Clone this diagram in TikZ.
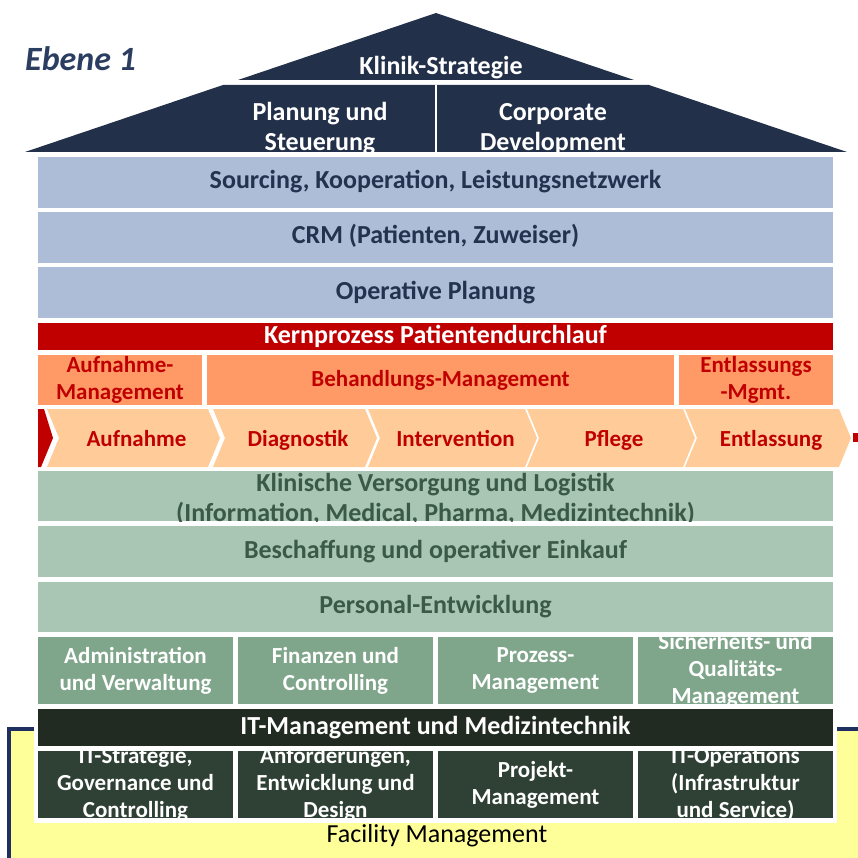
\documentclass[tikz,border=0pt]{standalone}
\usepackage{fontspec}
\setmainfont{Carlito}

\definecolor{roofnavy}{HTML}{223049}
\definecolor{ebeneblue}{HTML}{2B3E61}
\definecolor{layerblue}{HTML}{ADBCD7}
\definecolor{textblue}{HTML}{22324F}
\definecolor{kernred}{HTML}{C00000}
\definecolor{mgmtorange}{HTML}{FF9966}
\definecolor{chevpeach}{HTML}{FFCC99}
\definecolor{layergreen}{HTML}{A9C5B3}
\definecolor{textgreen}{HTML}{3A5A46}
\definecolor{orggreen}{HTML}{7FA68B}
\definecolor{itdark}{HTML}{222B21}
\definecolor{itgreen}{HTML}{2E4134}
\definecolor{facyellow}{HTML}{FFFF99}
\definecolor{facnavy}{HTML}{1F3060}

\begin{document}
\begin{tikzpicture}[x=1pt, y=-1pt,
		layer/.style={anchor=north west, inner sep=0pt, outer sep=0pt, minimum width=795pt},
		bigtext/.style={font=\bfseries\fontsize{26}{30}\selectfont, align=center, inner sep=0pt},
		smalltext/.style={font=\bfseries\fontsize{23}{27}\selectfont, align=center, inner sep=0pt},
		oneline/.style={text height=18pt, text depth=5pt},
		bluelayer/.style={layer, fill=layerblue, minimum height=51pt, bigtext, oneline, text=textblue},
		greenlayer/.style={layer, fill=layergreen, minimum height=50pt, bigtext, oneline, text=textgreen},
		mgmt/.style={layer, fill=mgmtorange, minimum height=50pt, smalltext, text=kernred}]
	\useasboundingbox (0,0) rectangle (858,858);
	\clip (0,0) rectangle (858,858);

	% Facility Management base
	\draw[facnavy, line width=4pt, fill=facyellow] (9,729) rectangle (900,900);
	\node[font=\fontsize{26}{30}\selectfont, inner sep=0pt] (facility) at (437,836) {Facility Management};
	\fill[white] (34,700) rectangle (837,823);

	% Roof
	\fill[roofnavy] (436,13) -- (634,80) -- (238,80) -- cycle;
	\fill[roofnavy] (223,85) -- (649,85) -- (847,152) -- (25,152) -- cycle;
	\draw[white, line width=2.5pt] (436,85) -- (436,152);
	\node[bigtext, oneline, white] (klinik) at (441,68) {Klinik-Strategie};
	\begin{scope}
		\clip (25,85) rectangle (847,152);
		\node[bigtext, white] (planung) at (320,129) {Planung und\\Steuerung};
		\node[bigtext, white] (corporate) at (553,129) {Corporate\\Development};
	\end{scope}
	\node[anchor=west, inner sep=0pt, text=ebeneblue, font=\bfseries\itshape\fontsize{34}{40}\selectfont] (ebene) at (25,59) {Ebene 1};

	% Blue layers
	\node[bluelayer] (sourcing) at (38,157) {Sourcing, Kooperation, Leistungsnetzwerk};
	\node[bluelayer] (crm) at (38,212) {CRM (Patienten, Zuweiser)};
	\node[bluelayer] (operativ) at (38,267) {Operative Planung};

	% Kernprozess
	\node[layer, fill=kernred, minimum height=27pt, bigtext, oneline, text=white] (kern) at (38,323) {Kernprozess Patientendurchlauf};
	\node[mgmt, minimum width=164pt] (aufnahmemgmt) at (38,355) {Aufnahme-\\Management};
	\node[mgmt, oneline, minimum width=467pt] (behandlung) at (207,355) {Behandlungs-Management};
	\node[mgmt, minimum width=154pt] (entlassungmgmt) at (679,355) {Entlassungs\\-Mgmt.};

	% Process chevrons
	\fill[kernred] (38,409) -- (44,409) -- (53,438) -- (41,467) -- (38,467) -- cycle;
	\foreach \l/\r/\name/\txt in {47/220/aufnahme/Aufnahme, 213/377/diagnostik/Diagnostik,
			368/537/intervention/Intervention, 527/695/pflege/Pflege, 685/851/entlassung/Entlassung}
	{
		\fill[chevpeach] (\l,409) -- (\r-12,409) -- (\r,438) -- (\r-12,467) -- (\l,467) -- (\l+12,438) -- cycle;
		\node[smalltext, text height=16pt, text depth=4pt, text=kernred] (\name) at ({(\l+\r)/2+3},440) {\txt};
	}
	\fill[kernred] (853,433) rectangle (862,442);

	% Green layers
	\node[layer, fill=layergreen, minimum height=50pt] (klinisch) at (38,471) {};
	\begin{scope}
		\clip (klinisch.north west) rectangle (klinisch.south east);
		\node[bigtext, text=textgreen] (klinischtext) at ([yshift=-3pt]klinisch.center) {Klinische Versorgung und Logistik\\(Information, Medical, Pharma, Medizintechnik)};
	\end{scope}
	\node[greenlayer, minimum height=51pt] (beschaffung) at (38,526) {Beschaffung und operativer Einkauf};
	\node[greenlayer] (personal) at (38,582) {Personal-Entwicklung};

	% Support functions
	\foreach \x/\name/\txt in {38/admin/{Administration\\und Verwaltung}, 238/finanzen/{Finanzen und\\Controlling},
			438/prozess/{Prozess-\\Management}, 638/sicherheit/{Sicherheits- und\\Qualitäts-\\Management}}
	{
		\node[layer, fill=orggreen, minimum width=195pt, minimum height=67pt] (\name) at (\x,637) {};
		\begin{scope}
			\clip (\name.north west) rectangle (\name.south east);
			\node[smalltext, white] (\name-text) at (\name.center) {\txt};
		\end{scope}
	}

	% IT
	\node[layer, fill=itdark, minimum height=37pt, bigtext, oneline, text=white] (it) at (38,709) {IT-Management und Medizintechnik};
	\foreach \x/\name/\txt in {38/itstrategie/{IT-Strategie,\\Governance und\\Controlling}, 238/anforderungen/{Anforderungen,\\Entwicklung und\\Design},
			438/projekt/{Projekt-\\Management}, 638/itoperations/{IT-Operations\\(Infrastruktur\\und Service)}}
	{
		\node[layer, fill=itgreen, minimum width=195pt, minimum height=67pt] (\name) at (\x,751) {};
		\begin{scope}
			\clip (\name.north west) rectangle (\name.south east);
			\node[smalltext, white] (\name-text) at (\name.center) {\txt};
		\end{scope}
	}
\end{tikzpicture}
\end{document}
